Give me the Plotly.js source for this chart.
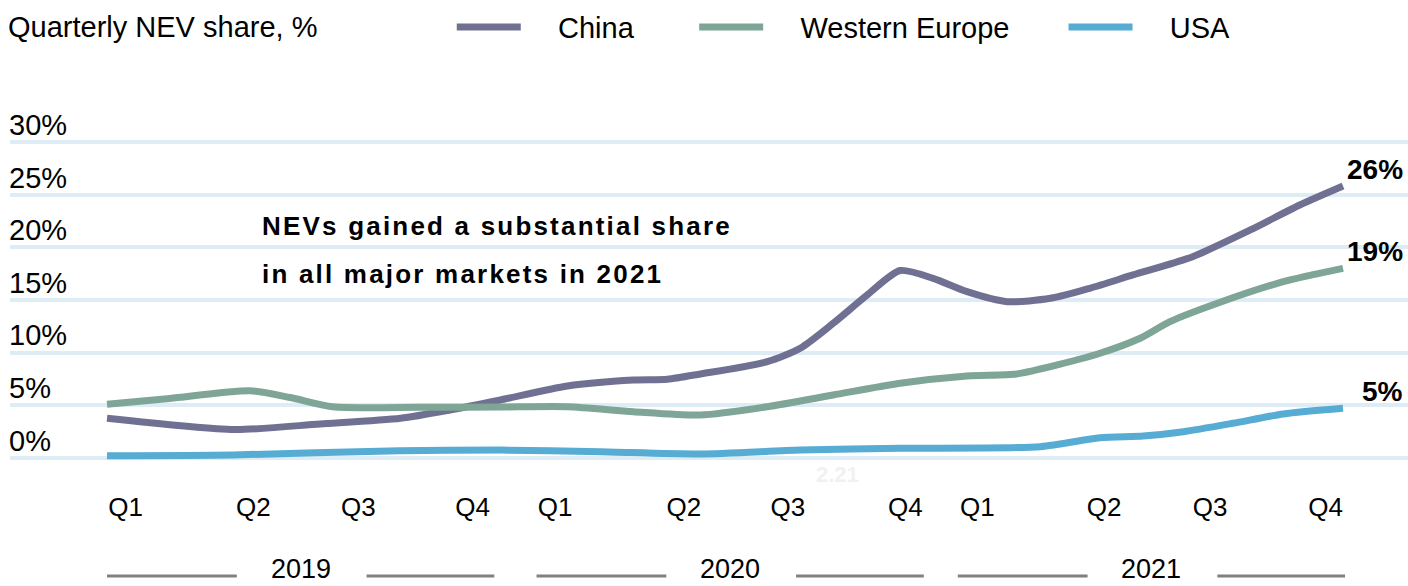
<!DOCTYPE html>
<html>
<head>
<meta charset="utf-8">
<script src="https://cdn.plot.ly/plotly-3.0.1.min.js"></script>
<style>
  html, body { margin: 0; padding: 0; background: #ffffff; }
  #chart { width: 1408px; height: 586px; }
</style>
</head>
<body>
<div id="chart"></div>
<script>
// ---- Data ----
const seriesNames = ['China', 'Western Europe', 'USA'];
const seriesColors = ['#707192', '#7fa596', '#57acd4'];
const endLabels = ['26%', '19%', '5%'];

// time position (0 = start of Q1 2019, 12 = end of Q4 2021)
const chinaX = [0, 1.24, 2.07, 2.85, 3.33, 3.82, 4.47, 5.11, 5.44, 5.76, 6.41, 6.73, 7.05, 7.38, 7.70, 8.02, 8.35, 8.74, 9.16, 9.54, 9.96, 10.54, 11.10, 11.58, 12];
const chinaY = [3.75, 2.68, 3.21, 3.75, 4.54, 5.49, 6.82, 7.39, 7.46, 7.96, 9.13, 10.41, 12.78, 15.47, 17.8, 17.06, 15.79, 14.84, 15.16, 16.11, 17.38, 19.12, 21.66, 24.03, 25.84];

const europeX = [0, 0.61, 1.39, 1.78, 2.19, 3.04, 3.82, 4.47, 5.11, 5.76, 6.41, 7.05, 7.70, 8.35, 8.83, 9.16, 9.64, 10.03, 10.32, 10.78, 11.42, 12];
const europeY = [5.08, 5.64, 6.37, 5.72, 4.85, 4.79, 4.82, 4.85, 4.38, 4.06, 4.85, 5.96, 7.08, 7.77, 7.96, 8.66, 9.93, 11.36, 12.94, 14.69, 16.74, 18.01];

const usaX = [0, 1.22, 2.84, 3.82, 4.79, 5.76, 6.73, 7.70, 9.06, 9.64, 10.06, 10.45, 10.93, 11.42, 12];
const usaY = [0.19, 0.26, 0.67, 0.73, 0.57, 0.35, 0.73, 0.89, 1.05, 1.90, 2.06, 2.47, 3.27, 4.16, 4.70];

const quarterTicks = [0.18, 1.42, 2.44, 3.55, 4.35, 5.60, 6.61, 7.75, 8.45, 9.68, 10.71, 11.83];
const quarterLabels = ['Q1', 'Q2', 'Q3', 'Q4', 'Q1', 'Q2', 'Q3', 'Q4', 'Q1', 'Q2', 'Q3', 'Q4'];

const years = ['2019', '2020', '2021'];
const yearStart = [0, 4.17, 8.26];
const yearEnd = [3.76, 7.93, 12.02];

const yTickVals = [0, 5, 10, 15, 20, 25, 30];
const yTickText = ['0%', '5%', '10%', '15%', '20%', '25%', '30%'];

const chartTitle = 'Quarterly NEV share, %';
const noteLines = ['NEVs gained a substantial share', 'in all major markets in 2021'];

// ---- Build ----
const FONT = 'Liberation Sans, Arial, Helvetica, sans-serif';
const xs = [chinaX, europeX, usaX];
const ys = [chinaY, europeY, usaY];
const legendIds = ['legend', 'legend2', 'legend3'];
const PAD = '\u00a0\u00a0\u00a0\u00a0';

const traces = seriesNames.map((name, i) => ({
  type: 'scatter',
  mode: 'lines',
  name: PAD + name,
  x: xs[i],
  y: ys[i],
  line: { color: seriesColors[i], width: 7, shape: 'spline', smoothing: 0.7 },
  legend: legendIds[i],
  hoverinfo: 'skip'
}));

// plot area: top 100 px, bottom 470 px
const annotations = [];
seriesNames.forEach((name, i) => {
  annotations.push({
    xref: 'x', yref: 'y',
    x: xs[i][xs[i].length - 1], y: ys[i][ys[i].length - 1],
    text: '<b>' + endLabels[i] + '</b>',
    showarrow: false, xanchor: 'right', yanchor: 'middle',
    xshift: 62, yshift: 17,
    font: { family: FONT, size: 28, color: '#000000' }
  });
});
const noteY = [0.659, 0.530];
noteLines.forEach((t, i) => {
  annotations.push({
    xref: 'paper', yref: 'paper', x: 0.1788, y: noteY[i],
    xanchor: 'left', yanchor: 'middle', showarrow: false,
    text: '<b><span style="letter-spacing:2.2px">' + t + '</span></b>',
    font: { family: FONT, size: 26, color: '#000000' }
  });
});
const shapes = [];
years.forEach((yr, i) => {
  const c = (yearStart[i] + yearEnd[i]) / 2;
  annotations.push({
    xref: 'x', yref: 'paper', x: c, y: -0.2676,
    text: yr, showarrow: false, xanchor: 'center', yanchor: 'middle',
    font: { family: FONT, size: 27, color: '#000000' }
  });
  shapes.push({ type: 'line', xref: 'x', yref: 'paper', x0: yearStart[i], x1: c - 0.62, y0: -0.2865, y1: -0.2865,
    line: { color: '#808080', width: 3 } });
  shapes.push({ type: 'line', xref: 'x', yref: 'paper', x0: c + 0.64, x1: yearEnd[i], y0: -0.2865, y1: -0.2865,
    line: { color: '#808080', width: 3 } });
});
annotations.push({
  xref: 'x', yref: 'paper', x: 7.09, y: -0.011, text: '<b>2.21</b>', showarrow: false,
  xanchor: 'center', yanchor: 'middle', font: { family: FONT, size: 22, color: '#f1f1f1' }
});

const legendBase = {
  orientation: 'h', yanchor: 'middle', y: 1.197, xanchor: 'left',
  font: { family: FONT, size: 29, color: '#000000' },
  bgcolor: 'rgba(0,0,0,0)', itemwidth: 64, borderwidth: 0
};

const layout = {
  width: 1408, height: 586,
  margin: { l: 10, r: 0, t: 100, b: 116 },
  paper_bgcolor: '#ffffff', plot_bgcolor: '#ffffff',
  title: {
    text: chartTitle, x: 0.0057, xanchor: 'left', xref: 'container',
    y: 0.954, yanchor: 'middle', yref: 'container',
    font: { family: FONT, size: 29, color: '#000000' }
  },
  showlegend: true,
  legend: Object.assign({}, legendBase, { x: 0.316 }),
  legend2: Object.assign({}, legendBase, { x: 0.4894 }),
  legend3: Object.assign({}, legendBase, { x: 0.7536 }),
  xaxis: {
    range: [-0.942, 12.631], showgrid: false, zeroline: false, showline: false,
    tickvals: quarterTicks, ticktext: quarterLabels, ticks: '',
    ticklabelstandoff: 19,
    tickfont: { family: FONT, size: 26, color: '#000000' }, fixedrange: true
  },
  yaxis: {
    range: [-1.17, 34.02], showgrid: true, gridcolor: '#ddecf5', gridwidth: 4,
    zeroline: false, showline: false, ticks: '',
    tickvals: yTickVals, ticktext: yTickText,
    ticklabelposition: 'inside top', ticklabelstandoff: -4, ticklabelshift: 3,
    tickfont: { family: FONT, size: 29, color: '#000000' }, fixedrange: true
  },
  annotations: annotations,
  shapes: shapes,
  hovermode: false
};

Plotly.newPlot('chart', traces, layout, { staticPlot: true, displayModeBar: false });
</script>
</body>
</html>
